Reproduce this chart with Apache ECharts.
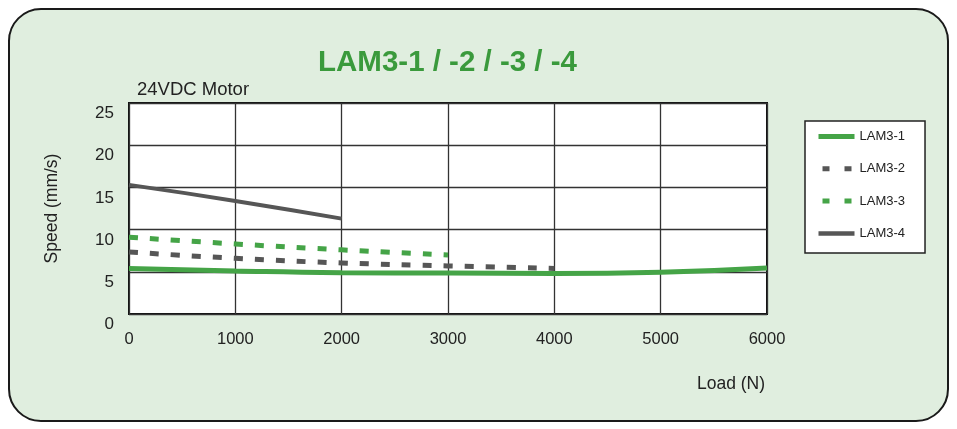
<!DOCTYPE html>
<html><head><meta charset="utf-8">
<script src="https://cdn.jsdelivr.net/npm/echarts@6/dist/echarts.min.js"></script>
<style>html,body{margin:0;padding:0;background:#fff}#c{width:957px;height:429px}</style>
</head><body><div id="c"></div>
<script>
const seriesNames = ['LAM3-1','LAM3-2','LAM3-3','LAM3-4'];
const loads1 = [0,1000,2000,3000,4000,5000,6000];
const speed1 = [5.4,5.1,4.9,4.85,4.8,4.95,5.45];
const loads2 = [0,1000,2000,3000,4000];
const speed2 = [7.35,6.6,6.05,5.7,5.4];
const loads3 = [0,1000,2000,3000];
const speed3 = [9.1,8.3,7.6,7.0];
const loads4 = [0,1000,2000];
const speed4 = [15.3,13.4,11.3];
const xTicks = [0,1000,2000,3000,4000,5000,6000];
const yTicks = [0,5,10,15,20,25];

const pair = (xs, ys) => xs.map((x,i)=>[x,ys[i]]);
const green = '#45a447', gray = '#565656';
const font = 'Liberation Sans, Arial, sans-serif';

const chart = echarts.init(document.getElementById('c'));
chart.setOption({
  backgroundColor:'#fff',
  animation:false,
  graphic:[
    {type:'rect', z:-10, shape:{x:9,y:9,width:939,height:412,r:32}, style:{fill:'#e0eedf',stroke:'#1a1a1a',lineWidth:2}},
    {type:'text', left:137, top:80, style:{text:'24VDC Motor', font:'18.5px '+font, fill:'#222'}},
    {type:'text', left:697, top:375, style:{text:'Load (N)', font:'17.5px '+font, fill:'#222'}}
  ],
  title:{text:'LAM3-1 / -2 / -3 / -4', left:318, top:48, padding:0,
    textStyle:{color:'#3a9a3c', fontSize:29.5, fontWeight:'bold', fontFamily:font}},
  legend:{orient:'vertical', left:805, top:121, padding:[9,20,13,11], itemGap:19.3, itemWidth:36, itemHeight:14,
    borderColor:'#222', borderWidth:1.5, backgroundColor:'#fff',
    itemStyle:{opacity:0},
    textStyle:{fontSize:13, color:'#222', fontFamily:font},
    data:[
      {name:seriesNames[0], lineStyle:{width:5}},
      {name:seriesNames[1], lineStyle:{width:5, type:[7,15], dashOffset:18}},
      {name:seriesNames[2], lineStyle:{width:5, type:[7,15], dashOffset:18}},
      {name:seriesNames[3], lineStyle:{width:4.5}}
    ]},
  grid:{left:129, right:190, top:103, bottom:115, show:true, backgroundColor:'#fff', borderColor:'#111', borderWidth:2},
  xAxis:{type:'value', min:0, max:6000, interval:1000,
    axisLine:{show:false}, axisTick:{show:false},
    splitLine:{show:true, lineStyle:{color:'#333', width:1.3}},
    axisLabel:{fontSize:16.5, color:'#222', margin:17, fontFamily:font, formatter:v=>String(v)}},
  yAxis:{type:'value', min:0, max:25, interval:5,
    name:'Speed (mm/s)', nameLocation:'middle', nameGap:68, nameTextStyle:{fontSize:17.5, color:'#222', fontFamily:font},
    axisLine:{show:false}, axisTick:{show:false},
    splitLine:{show:true, lineStyle:{color:'#333', width:1.3}},
    axisLabel:{fontSize:17, color:'#222', margin:15, verticalAlign:'top', padding:[2,0,0,0], fontFamily:font}},
  series:[
    {name:seriesNames[0], type:'line', smooth:true, symbol:'none', data:pair(loads1,speed1), lineStyle:{color:green, width:5}, itemStyle:{color:green}, z:4},
    {name:seriesNames[1], type:'line', smooth:true, symbol:'none', data:pair(loads2,speed2), lineStyle:{color:gray, width:5, type:[9,12]}, itemStyle:{color:gray}, z:3},
    {name:seriesNames[2], type:'line', smooth:true, symbol:'none', data:pair(loads3,speed3), lineStyle:{color:green, width:5, type:[9,12]}, itemStyle:{color:green}, z:3},
    {name:seriesNames[3], type:'line', smooth:true, symbol:'none', data:pair(loads4,speed4), lineStyle:{color:gray, width:4}, itemStyle:{color:gray}, z:3}
  ]
});
</script></body></html>
